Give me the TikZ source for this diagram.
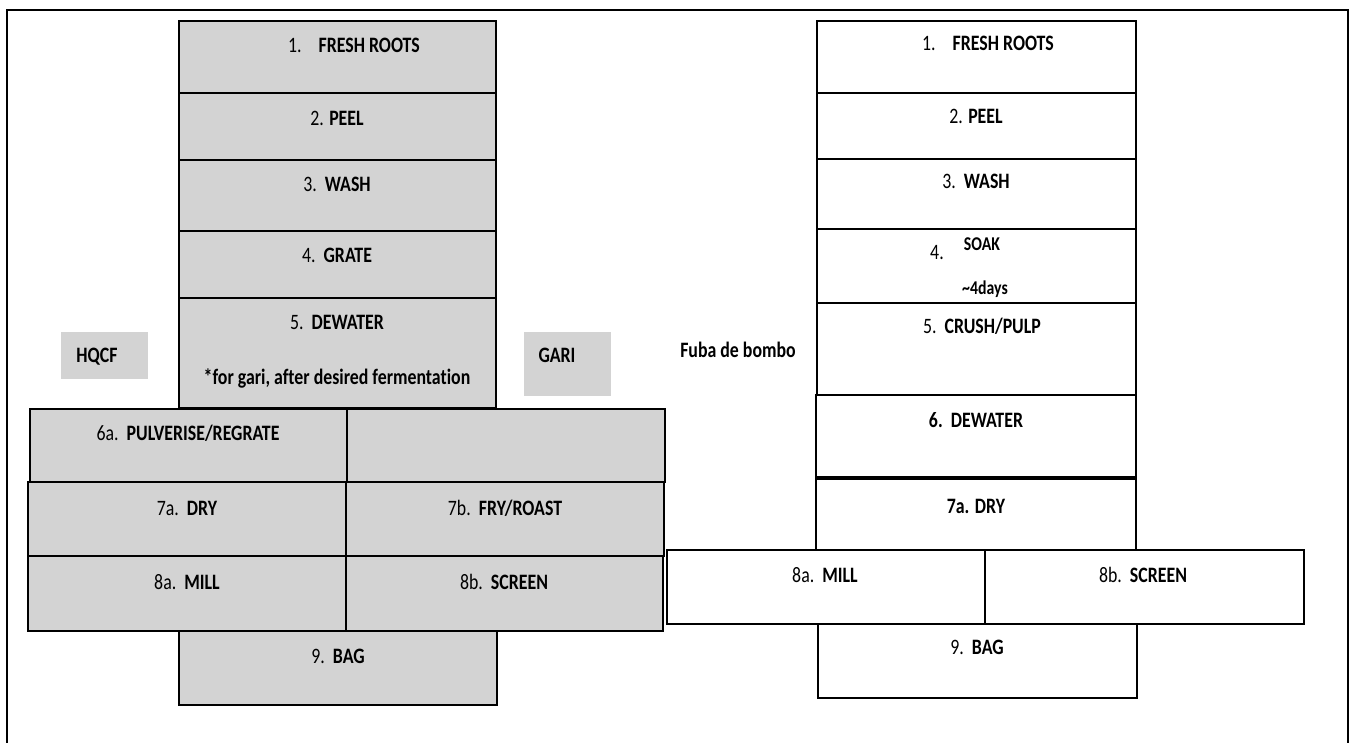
\documentclass[tikz,border=0pt]{standalone}
\usepackage{fontspec}
\setmainfont{Carlito}[FakeStretch=0.81,Ligatures=NoCommon]
\begin{document}
\begin{tikzpicture}[x=1pt,y=-1pt,
  box/.style={draw=black,line width=1.6pt,anchor=north west,inner sep=0pt,outer sep=0pt},
  gbox/.style={box,fill=boxgray},
  wbox/.style={box,fill=white},
  tag/.style={fill=boxgray,anchor=north west,inner sep=0pt},
  txt/.style={anchor=base,inner sep=0pt,font=\fontsize{22}{25}\selectfont},
  stxt/.style={anchor=base,inner sep=0pt,font=\fontsize{19.5}{22}\selectfont}]
\definecolor{boxgray}{RGB}{211,211,211}
\useasboundingbox (0,0) rectangle (1352,743);
% outer frame
\coordinate (fbl) at (7,743);
\coordinate (ftl) at (7,10);
\coordinate (ftr) at (1348,10);
\coordinate (fbr) at (1348,743);
\draw[line width=1.6pt] (fbl) -- (ftl) -- (ftr) -- (fbr);
% ---------- left (gray) column ----------
\node[gbox,minimum width=317pt,minimum height=72pt] (l1) at (179,21) {};
\node[gbox,minimum width=317pt,minimum height=67pt] (l2) at (179,93) {};
\node[gbox,minimum width=317pt,minimum height=71pt] (l3) at (179,160) {};
\node[gbox,minimum width=317pt,minimum height=67pt] (l4) at (179,231) {};
\node[gbox,minimum width=317pt,minimum height=110pt] (l5) at (179,298) {};
\node[gbox,minimum width=317pt,minimum height=73pt] (l6a) at (30,409) {};
\node[gbox,minimum width=318pt,minimum height=73pt] (l6b) at (347,409) {};
\node[gbox,minimum width=318pt,minimum height=74pt] (l7a) at (28,482) {};
\node[gbox,minimum width=318pt,minimum height=74pt] (l7b) at (346,482) {};
\node[gbox,minimum width=318pt,minimum height=75pt] (l8a) at (28,556) {};
\node[gbox,minimum width=317pt,minimum height=75pt] (l8b) at (346,556) {};
\node[gbox,minimum width=318pt,minimum height=74pt] (l9) at (179,631) {};
\node[tag,minimum width=87pt,minimum height=47pt] (hqcf) at (61,332) {};
\node[tag,minimum width=87pt,minimum height=64pt] (gari) at (524,332) {};
% left texts
\node[txt] (t1) at (354,53) {1.\hspace{17pt}\textbf{FRESH ROOTS}};
\node[txt] (t2) at (337,126) {2. \textbf{PEEL}};
\node[txt] (t3) at (337,192) {3.\ \ \textbf{WASH}};
\node[txt] (t4) at (337,263) {4.\ \ \textbf{GRATE}};
\node[txt] (t5) at (337,330) {5.\ \ \textbf{DEWATER}};
\node[txt] (t5n) at (337,384) {\textbf{*for gari, after desired fermentation}};
\node[txt] (thq) at (97,362) {\textbf{HQCF}};
\node[txt] (tga) at (557,362) {\textbf{GARI}};
\node[txt] (t6a) at (188,440) {6a.\ \ \textbf{PULVERISE/REGRATE}};
\node[txt] (t7a) at (187,515) {7a.\ \ \textbf{DRY}};
\node[txt] (t7b) at (505,515) {7b.\ \ \textbf{FRY/ROAST}};
\node[txt] (t8a) at (187,589) {8a.\ \ \textbf{MILL}};
\node[txt] (t8b) at (504,589) {8b.\ \ \textbf{SCREEN}};
\node[txt] (t9) at (338,663) {9.\ \ \textbf{BAG}};
% ---------- right (white) column ----------
\node[wbox,minimum width=319pt,minimum height=72pt] (r1) at (817,21) {};
\node[wbox,minimum width=319pt,minimum height=66pt] (r2) at (817,93) {};
\node[wbox,minimum width=319pt,minimum height=70pt] (r3) at (817,159) {};
\node[wbox,minimum width=319pt,minimum height=74pt] (r4) at (817,229) {};
\node[wbox,minimum width=319pt,minimum height=92pt] (r5) at (817,303) {};
\node[wbox,minimum width=320pt,minimum height=82pt] (r6) at (816,395) {};
\node[wbox,minimum width=320pt,minimum height=71pt] (r7) at (816,479) {};
\node[wbox,minimum width=318pt,minimum height=74pt] (r8a) at (667,550) {};
\node[wbox,minimum width=319pt,minimum height=74pt] (r8b) at (985,550) {};
\node[wbox,minimum width=319pt,minimum height=74pt] (r9) at (818,624) {};
% right texts
\node[txt] (s1) at (988,51) {1.\hspace{17pt}\textbf{FRESH ROOTS}};
\node[txt] (s2) at (976,124) {2. \textbf{PEEL}};
\node[txt] (s3) at (976,189) {3.\ \ \textbf{WASH}};
\node[txt] (s4n) at (937,260) {4.};
\node[stxt] (s4) at (982,251) {\textbf{SOAK}};
\node[stxt] (s4d) at (985,295) {\textbf{\textasciitilde4days}};
\node[txt] (s5) at (982,334) {5.\ \ \textbf{CRUSH/PULP}};
\node[txt] (sfu) at (738,357) {\textbf{Fuba de bombo}};
\node[txt] (s6) at (976,427) {\textbf{6.\ \ DEWATER}};
\node[txt] (s7) at (976,513) {\textbf{7a. DRY}};
\node[txt] (s8a) at (825,582) {8a.\ \ \textbf{MILL}};
\node[txt] (s8b) at (1143,582) {8b.\ \ \textbf{SCREEN}};
\node[txt] (s9) at (977,654) {9.\ \ \textbf{BAG}};
\end{tikzpicture}
\end{document}
